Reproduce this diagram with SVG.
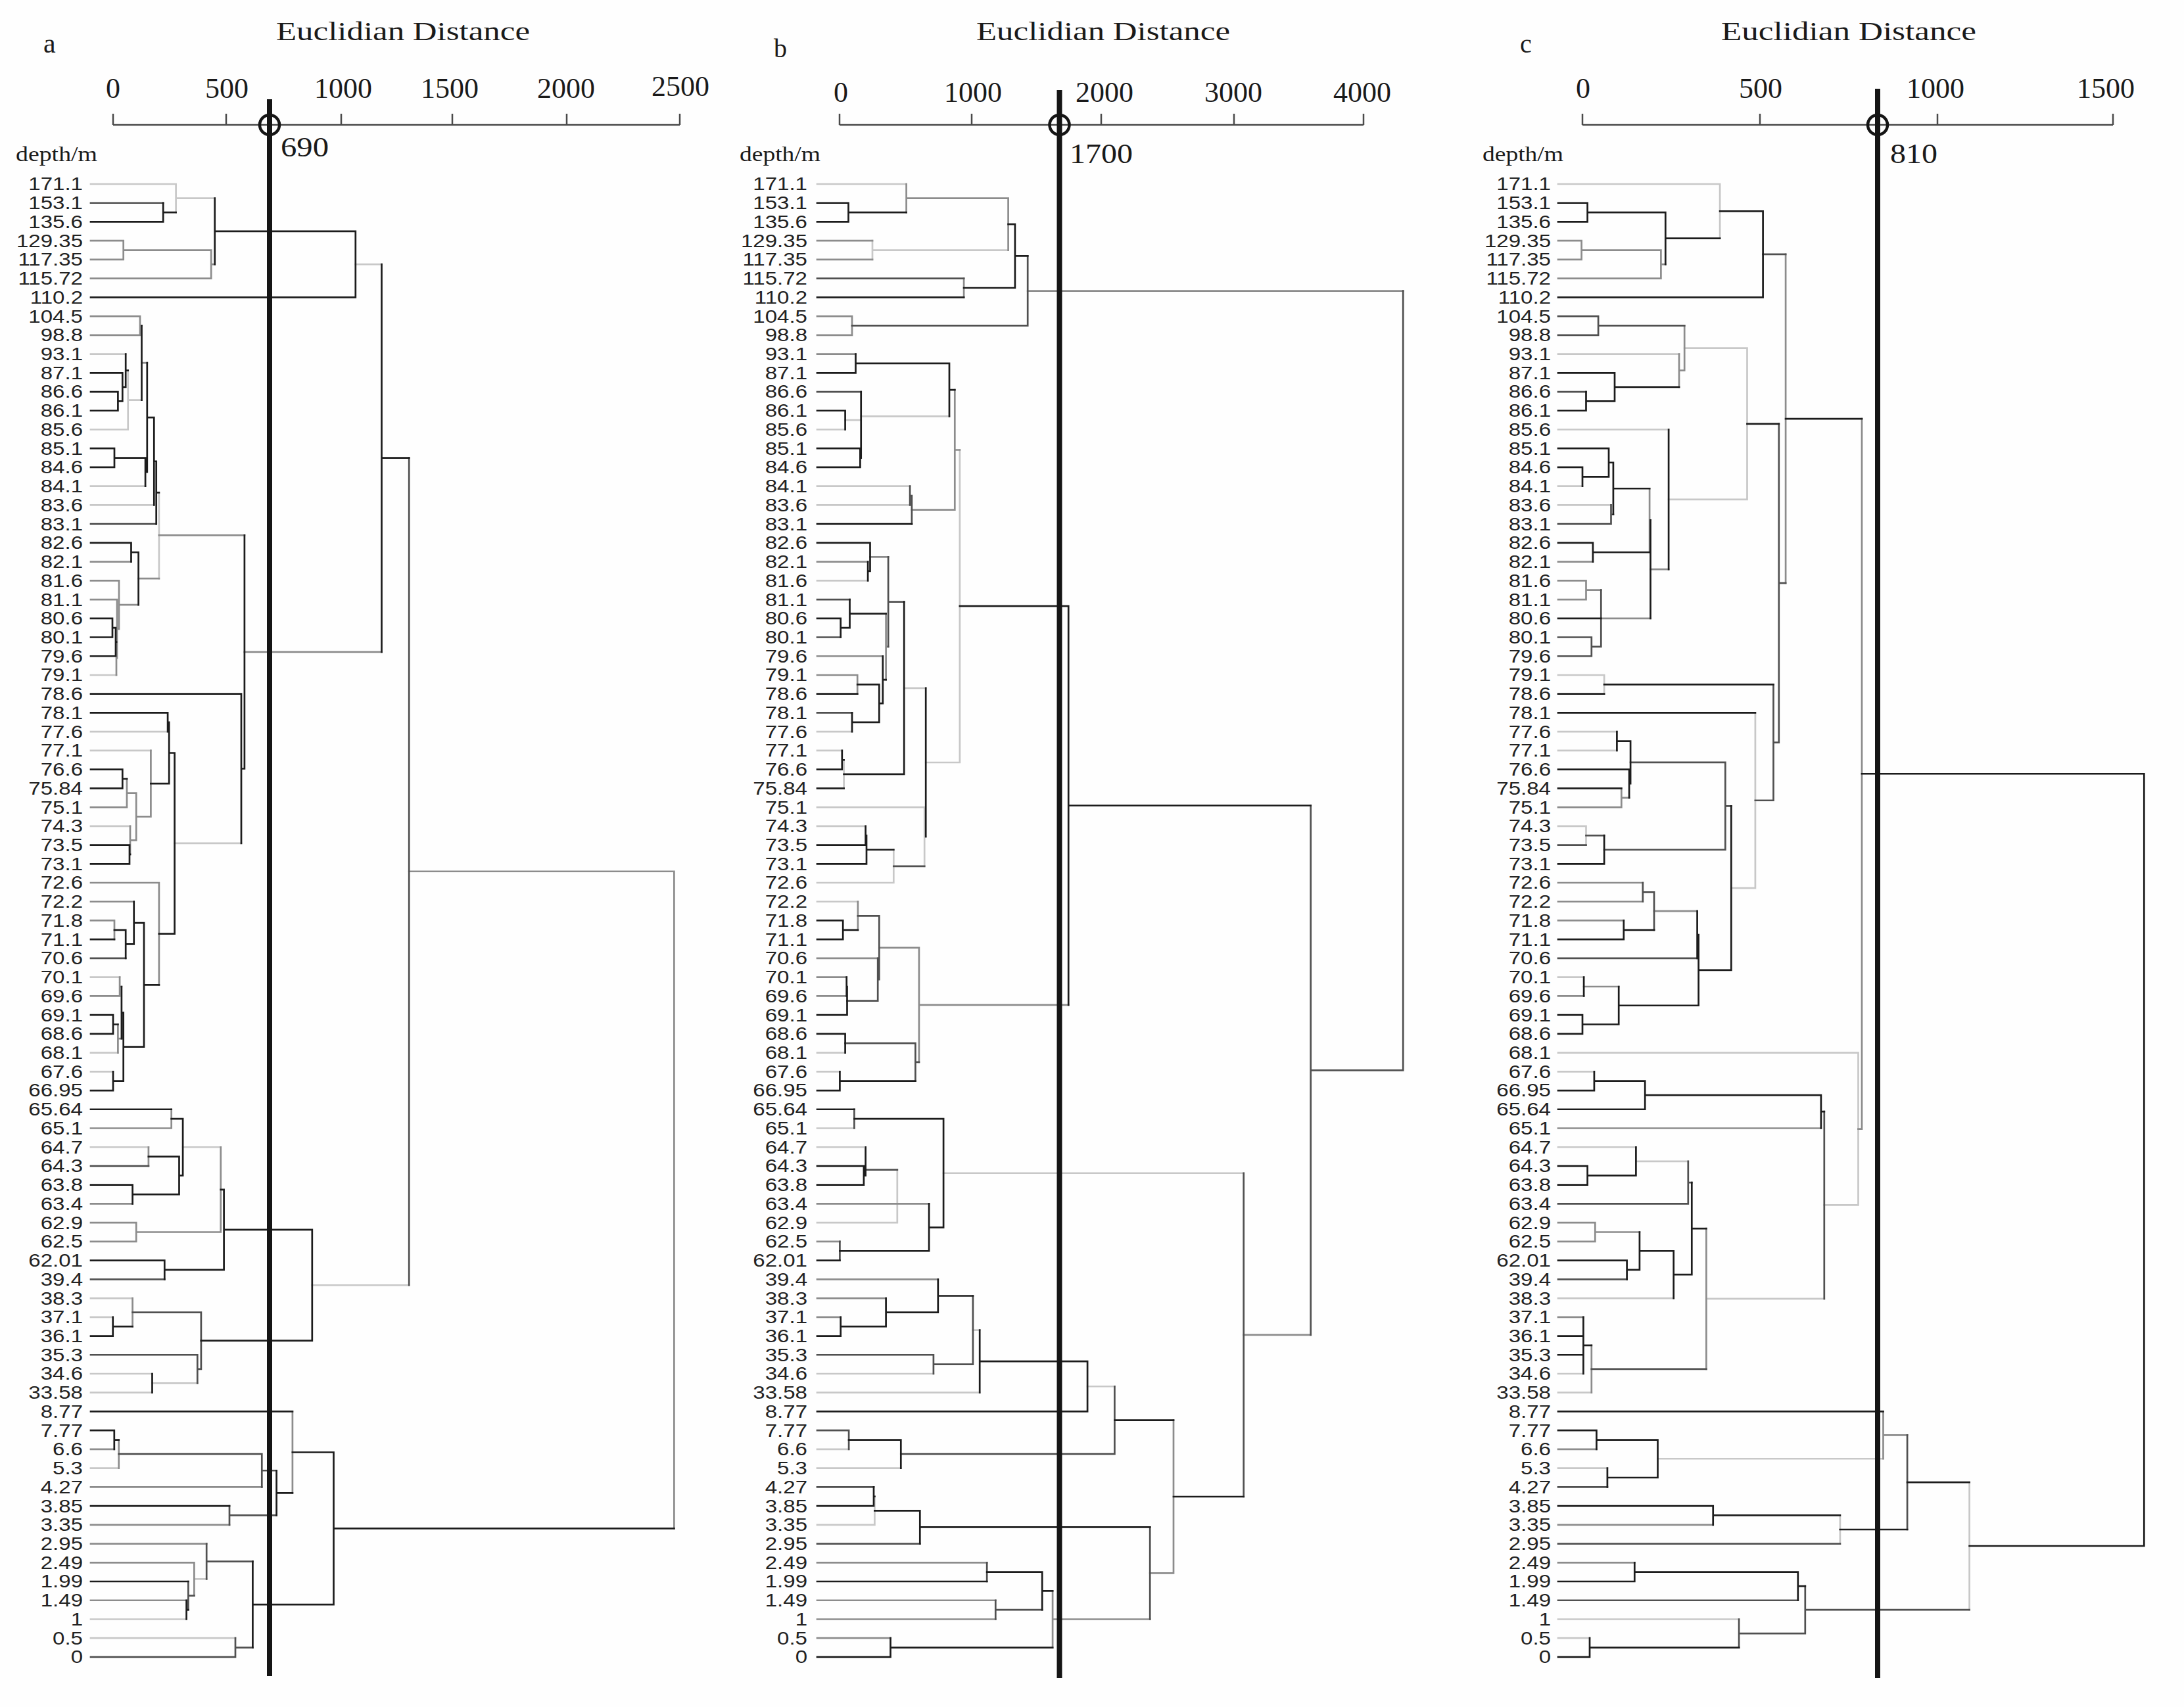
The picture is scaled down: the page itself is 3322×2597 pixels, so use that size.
<svg xmlns="http://www.w3.org/2000/svg" width="3322" height="2597" viewBox="0 0 3322 2597">
<style>
.serif{font-family:"Liberation Serif","Times New Roman",serif;fill:#1a1a1a}
.lbl text{font-family:"Liberation Sans",Arial,sans-serif;font-size:28px;fill:#222;text-anchor:end}
.axis{stroke:#4a4a4a;stroke-width:2.5;fill:none}
.cut{stroke:#151515;stroke-width:8}
.ring{fill:none;stroke:#151515;stroke-width:4.5}
.tree path{fill:none;stroke-width:2.7;vector-effect:non-scaling-stroke;stroke-linecap:square}
.K{stroke:#1c1c1c}.D{stroke:#505050}.G{stroke:#8c8c8c}.L{stroke:#c8c8c8}
</style>
<rect width="3322" height="2597" fill="#fefefe"/>

<g id="panel-a">
<g id="a-header" class="serif">
<text x="66" y="80" font-size="42">a</text>
<text x="420" y="61" font-size="40" textLength="386" lengthAdjust="spacingAndGlyphs">Euclidian Distance</text>
<g font-size="44" text-anchor="middle">
<text x="172" y="149">0</text><text x="345" y="149">500</text><text x="522" y="149">1000</text><text x="684" y="149">1500</text><text x="861" y="149">2000</text><text x="1035" y="146">2500</text>
</g>
<path class="axis" d="M172 190H1034M172 173V190M344 173V190M519 173V190M688 173V190M862 173V190M1034 173V190"/>
<text x="24" y="245" font-size="31" textLength="124" lengthAdjust="spacingAndGlyphs">depth/m</text>
</g>
<g id="a-labels" class="lbl" transform="translate(126,0) scale(1.18,1)">
<text x="0" y="289.5">171.1</text><text x="0" y="318.2">153.1</text><text x="0" y="347">135.6</text><text x="0" y="375.7">129.35</text><text x="0" y="404.4">117.35</text><text x="0" y="433.2">115.72</text><text x="0" y="461.9">110.2</text><text x="0" y="490.6">104.5</text><text x="0" y="519.3">98.8</text><text x="0" y="548.1">93.1</text><text x="0" y="576.8">87.1</text><text x="0" y="605.5">86.6</text><text x="0" y="634.3">86.1</text><text x="0" y="663">85.6</text><text x="0" y="691.7">85.1</text><text x="0" y="720.5">84.6</text><text x="0" y="749.2">84.1</text><text x="0" y="777.9">83.6</text><text x="0" y="806.6">83.1</text><text x="0" y="835.4">82.6</text><text x="0" y="864.1">82.1</text><text x="0" y="892.8">81.6</text><text x="0" y="921.6">81.1</text><text x="0" y="950.3">80.6</text><text x="0" y="979">80.1</text><text x="0" y="1007.8">79.6</text><text x="0" y="1036.5">79.1</text><text x="0" y="1065.2">78.6</text><text x="0" y="1093.9">78.1</text><text x="0" y="1122.7">77.6</text><text x="0" y="1151.4">77.1</text><text x="0" y="1180.1">76.6</text><text x="0" y="1208.9">75.84</text><text x="0" y="1237.6">75.1</text><text x="0" y="1266.3">74.3</text><text x="0" y="1295.1">73.5</text><text x="0" y="1323.8">73.1</text><text x="0" y="1352.5">72.6</text><text x="0" y="1381.2">72.2</text><text x="0" y="1410">71.8</text><text x="0" y="1438.7">71.1</text><text x="0" y="1467.4">70.6</text><text x="0" y="1496.2">70.1</text><text x="0" y="1524.9">69.6</text><text x="0" y="1553.6">69.1</text><text x="0" y="1582.4">68.6</text><text x="0" y="1611.1">68.1</text><text x="0" y="1639.8">67.6</text><text x="0" y="1668.5">66.95</text><text x="0" y="1697.3">65.64</text><text x="0" y="1726">65.1</text><text x="0" y="1754.7">64.7</text><text x="0" y="1783.5">64.3</text><text x="0" y="1812.2">63.8</text><text x="0" y="1840.9">63.4</text><text x="0" y="1869.7">62.9</text><text x="0" y="1898.4">62.5</text><text x="0" y="1927.1">62.01</text><text x="0" y="1955.8">39.4</text><text x="0" y="1984.6">38.3</text><text x="0" y="2013.3">37.1</text><text x="0" y="2042">36.1</text><text x="0" y="2070.8">35.3</text><text x="0" y="2099.5">34.6</text><text x="0" y="2128.2">33.58</text><text x="0" y="2157">8.77</text><text x="0" y="2185.7">7.77</text><text x="0" y="2214.4">6.6</text><text x="0" y="2243.1">5.3</text><text x="0" y="2271.9">4.27</text><text x="0" y="2300.6">3.85</text><text x="0" y="2329.3">3.35</text><text x="0" y="2358.1">2.95</text><text x="0" y="2386.8">2.49</text><text x="0" y="2415.5">1.99</text><text x="0" y="2444.3">1.49</text><text x="0" y="2473">1</text><text x="0" y="2501.7">0.5</text><text x="0" y="2530.4">0</text>
</g>
<g id="a-connectors" class="tree" transform="translate(0,280) scale(1,28.73)">
<path class="L" d="M138 0H267.6M138 9H191.2M138 13H194.7M138 16H221.1M138 17H234.3M138 26H177M138 29H255.1M138 30H229.4M138 34H198M138 42H182.1M138 46H179.4M138 47H172M138 51H225.9M138 59H201.6M138 60H171.7M138 63H231.5M138 64H231.5M138 68H180.7M138 76H283.6M138 77H358M267.6 0V1.5M267.6 0.75H326.7M540.8 4.25H580.5M194.7 9.875V13M194.7 11.44H215.5M241.9 16.34V20.89M265.6 34.91H367M278.1 51H335.8M231.5 63.5H300.3M474.8 58.31H622.2M295.4 73.875H314.2"/>
<path class="G" d="M138 3H187.7M138 4H187.7M138 5H321.2M138 7H213M138 8H213M138 20H199.5M138 21H181M138 22H178M138 33H193M138 37H241.9M138 38H203.7M138 39H174M138 43H182.1M138 50H260.7M138 54H201.6M138 55H207.2M138 56H207.2M138 67H173.8M138 69H398.3M138 71H349M138 72H314.2M138 73H295.4M138 75H283.6M187.7 3V4M187.7 3.5H321.2M321.2 3.5V5M321.2 4.25H326.7M213 7V8M213 7.5H215.5M215.5 9.47H223.8M177 24.25V26M177 25.1H178M178 22V25.1M178 23.56H181M181 21V23.56M181 22.28H210.6M210.6 20.89H241.9M241.9 18.6H371.9M193 31.5V33M193 32.25H207.2M198 34V35.5M198 34.75H207.2M207.2 32.25V34.75M207.2 33.5H229.4M229.4 30V33.5M174 39V40M179.4 44.5V46M179.4 45.25H184.9M182.1 42V43M182.1 42.5H184.9M241.9 37V42.41M371.9 24.78H580.5M260.7 49V50M225.9 51V52M207.2 55V56M207.2 55.5H335.8M335.8 51V55.5M201.6 59V60.5M622.2 36.4H1025.4M180.7 66.5V68M444.9 65V69.31M295.4 73V74.75M1025.4 36.4V71.19"/>
<path class="D" d="M138 1H248.2M138 18H237.7M138 41H191.2M138 52H225.9M138 58H250.3M138 62H300.3M138 78H358M201.6 59.75H305.9M300.3 62V63.5M300.3 62.75H305.9M305.9 59.75V62.75M622.2 14.5V58.31M180.7 67.25H398.3M398.3 67.25V69M398.3 68.125H420.6M349 70V71M349 70.5H420.6M286.4 74V75.5M286.4 74.75H295.4M314.2 72V73.875M314.2 72.94H384.4M358 77V78M358 77.5H384.4"/>
<path class="K" d="M138 2H248.2M138 6H540.8M138 10H186.3M138 11H179.4M138 12H179.4M138 14H174M138 15H174M138 19H199.5M138 23H171M138 24H171M138 25H176M138 27H367M138 28H255.1M138 31H186.3M138 32H186.3M138 35H197M138 36H197M138 40H174M138 44H172M138 45H172M138 48H172M138 49H260.7M138 53H201.6M138 57H250.3M138 61H171.7M138 65H444.9M138 66H173.8M138 70H349M138 74H286.4M248.2 1V2M248.2 1.5H267.6M326.7 0.75V4.25M326.7 2.5H540.8M540.8 2.5V6M179.4 11V12M179.4 11.5H186.3M186.3 10V11.5M186.3 10.75H191.2M191.2 9V10.75M191.2 9.875H194.7M215.5 7.5V11.44M174 14V15M174 14.5H221.1M221.1 14.5V16M221.1 15.25H223.8M223.8 9.47V15.25M223.8 12.36H234.3M234.3 12.36V17M234.3 14.68H237.7M237.7 14.68V18M237.7 16.34H241.9M199.5 19V20M199.5 19.5H210.6M171 23V24M171 23.5H176M176 23.5V25M176 24.25H177M210.6 19.5V22.28M186.3 31V32M186.3 31.5H193M197 35V36M197 35.5H198M229.4 31.75H257.2M255.1 28V29M255.1 28.5H257.2M257.2 28.5V31.75M257.2 30.125H265.6M174 39.5H191.2M191.2 39.5V41M191.2 40.25H203.7M203.7 38V40.25M203.7 39.125H219M172 44V45M172 44.5H179.4M184.9 42.5V45.25M184.9 43.875H187.7M172 47V48M172 47.5H187.7M187.7 43.875V47.5M187.7 45.69H219M219 39.125V45.69M219 42.41H241.9M241.9 39.7H265.6M265.6 30.125V39.7M367 27V34.91M367 30.96H371.9M371.9 18.6V30.96M580.5 4.25V24.78M580.5 14.5H622.2M260.7 49.5H278.1M225.9 51.5H272.5M201.6 53V54M201.6 53.5H272.5M272.5 51.5V53.5M272.5 52.5H278.1M278.1 49.5V52.5M335.8 53.25H340.6M250.3 57V58M250.3 57.5H340.6M340.6 53.25V57.5M340.6 55.375H474.8M171.7 60V61M171.7 60.5H201.6M231.5 63V64M305.9 61.25H474.8M474.8 55.375V61.25M173.8 66V67M173.8 66.5H180.7M420.6 68.125V70.5M420.6 69.31H444.9M444.9 67.16H507.5M283.6 75V76M283.6 75.5H286.4M384.4 72.94V77.5M384.4 75.22H507.5M507.5 67.16V75.22M507.5 71.19H1025.4"/>
</g>
<g id="a-cut">
<line class="cut" x1="410" y1="151" x2="410" y2="2550"/>
<circle class="ring" cx="410" cy="190" r="15"/>
<text class="serif" x="427" y="238" font-size="42" textLength="73" lengthAdjust="spacingAndGlyphs">690</text>
</g>
</g>

<g id="panel-b">
<g id="b-header" class="serif">
<text x="1177" y="87" font-size="40">b</text>
<text x="1485" y="61" font-size="40" textLength="386" lengthAdjust="spacingAndGlyphs">Euclidian Distance</text>
<g font-size="44" text-anchor="middle">
<text x="1279" y="155">0</text><text x="1480" y="155">1000</text><text x="1680" y="155">2000</text><text x="1876" y="155">3000</text><text x="2072" y="155">4000</text>
</g>
<path class="axis" d="M1277 190H2074M1277 173V190M1478 173V190M1675 173V190M1877 173V190M2074 173V190"/>
<text x="1125" y="245" font-size="31" textLength="123" lengthAdjust="spacingAndGlyphs">depth/m</text>
</g>
<g id="b-labels" class="lbl" transform="translate(1228,0) scale(1.18,1)">
<text x="0" y="289.5">171.1</text><text x="0" y="318.2">153.1</text><text x="0" y="347">135.6</text><text x="0" y="375.7">129.35</text><text x="0" y="404.4">117.35</text><text x="0" y="433.2">115.72</text><text x="0" y="461.9">110.2</text><text x="0" y="490.6">104.5</text><text x="0" y="519.3">98.8</text><text x="0" y="548.1">93.1</text><text x="0" y="576.8">87.1</text><text x="0" y="605.5">86.6</text><text x="0" y="634.3">86.1</text><text x="0" y="663">85.6</text><text x="0" y="691.7">85.1</text><text x="0" y="720.5">84.6</text><text x="0" y="749.2">84.1</text><text x="0" y="777.9">83.6</text><text x="0" y="806.6">83.1</text><text x="0" y="835.4">82.6</text><text x="0" y="864.1">82.1</text><text x="0" y="892.8">81.6</text><text x="0" y="921.6">81.1</text><text x="0" y="950.3">80.6</text><text x="0" y="979">80.1</text><text x="0" y="1007.8">79.6</text><text x="0" y="1036.5">79.1</text><text x="0" y="1065.2">78.6</text><text x="0" y="1093.9">78.1</text><text x="0" y="1122.7">77.6</text><text x="0" y="1151.4">77.1</text><text x="0" y="1180.1">76.6</text><text x="0" y="1208.9">75.84</text><text x="0" y="1237.6">75.1</text><text x="0" y="1266.3">74.3</text><text x="0" y="1295.1">73.5</text><text x="0" y="1323.8">73.1</text><text x="0" y="1352.5">72.6</text><text x="0" y="1381.2">72.2</text><text x="0" y="1410">71.8</text><text x="0" y="1438.7">71.1</text><text x="0" y="1467.4">70.6</text><text x="0" y="1496.2">70.1</text><text x="0" y="1524.9">69.6</text><text x="0" y="1553.6">69.1</text><text x="0" y="1582.4">68.6</text><text x="0" y="1611.1">68.1</text><text x="0" y="1639.8">67.6</text><text x="0" y="1668.5">66.95</text><text x="0" y="1697.3">65.64</text><text x="0" y="1726">65.1</text><text x="0" y="1754.7">64.7</text><text x="0" y="1783.5">64.3</text><text x="0" y="1812.2">63.8</text><text x="0" y="1840.9">63.4</text><text x="0" y="1869.7">62.9</text><text x="0" y="1898.4">62.5</text><text x="0" y="1927.1">62.01</text><text x="0" y="1955.8">39.4</text><text x="0" y="1984.6">38.3</text><text x="0" y="2013.3">37.1</text><text x="0" y="2042">36.1</text><text x="0" y="2070.8">35.3</text><text x="0" y="2099.5">34.6</text><text x="0" y="2128.2">33.58</text><text x="0" y="2157">8.77</text><text x="0" y="2185.7">7.77</text><text x="0" y="2214.4">6.6</text><text x="0" y="2243.1">5.3</text><text x="0" y="2271.9">4.27</text><text x="0" y="2300.6">3.85</text><text x="0" y="2329.3">3.35</text><text x="0" y="2358.1">2.95</text><text x="0" y="2386.8">2.49</text><text x="0" y="2415.5">1.99</text><text x="0" y="2444.3">1.49</text><text x="0" y="2473">1</text><text x="0" y="2501.7">0.5</text><text x="0" y="2530.4">0</text>
</g>
<g id="b-connectors" class="tree" transform="translate(0,280) scale(1,28.73)">
<path class="L" d="M1243 0H1378.6M1243 13H1285.6M1243 16H1384.1M1243 17H1384.1M1243 21H1320.1M1243 29H1296M1243 30H1280.8M1243 33H1406.2M1243 34H1316.6M1243 37H1359.3M1243 38H1304.9M1243 46H1285.6M1243 47H1277.4M1243 50H1299.4M1243 51H1313.2M1243 55H1364.8M1243 63H1419.9M1243 64H1490.2M1243 67H1291.1M1243 68H1370.3M1243 71H1330.4M1327 3V4M1327 3.5H1533.6M1285.6 12.5H1309.7M1309.7 12.3H1444M1283.6 30.5V32M1375.2 26.69H1408.2M1359.3 35.25V37M1406.2 33V36.125M1406.2 34.56H1408.2M1408.2 30.63H1459.9M1459.9 14.08V30.63M1364.8 52.2V55M1435.1 52.375H1891.7M1479.9 60.69H1490.2M1654.1 63.67H1695.4M1330.4 69.5V71"/>
<path class="G" d="M1243 3H1327M1243 4H1327M1243 7H1296M1243 8H1296M1243 9H1301.5M1243 20H1320.1M1243 25H1342.8M1243 26H1304.2M1243 41H1335.2M1243 42H1287.7M1243 43H1287.7M1243 54H1413.1M1243 56H1277.4M1243 58H1426.8M1243 59H1347.6M1243 60H1278.7M1243 73H1501.2M1243 75H1514.3M1243 76H1514.3M1243 77H1354.5M1378.6 0V1.5M1378.6 0.75H1533.6M1533.6 0.75V3.5M1466.1 5V6M1296 7V8M1563.2 5.66H2134.2M1386.9 17.25H1452.3M1452.3 10.9V17.25M1452.3 14.08H1459.9M1323.5 19.75H1351.1M1304.2 26V27M1347.6 22.75V26.25M1347.6 24.5H1351.1M1304.9 38V39.5M1337.3 40.44H1397.9M1397.9 40.44V46.5M1397.9 43.47H1625.2M1601.1 74.5V77.5M1601.1 76H1749.2M1749.2 73.56H1785M1785 65.46V73.56M1891.7 60.94H1993.7"/>
<path class="D" d="M1243 5H1466.1M1243 11H1309.7M1243 22H1292.5M1243 24H1278.7M1243 28H1296M1243 62H1419.9M1243 66H1291.1M1243 69H1329M1243 72H1399.3M1296 7.5H1563.2M1563.2 3.81V7.5M1384.1 16V17M1384.1 16.5H1386.9M1386.9 16.5V18M1351.1 19.75V24.5M1351.1 22.125H1375.2M1359.3 36.125H1406.2M1304.9 38.75H1337.3M1288.5 43.25H1335.2M1335.2 41V43.25M1335.2 42.125H1337.3M1337.3 38.75V42.125M1285.6 45.5H1392.4M1392.4 45.5V47.5M1392.4 46.5H1397.9M1299.4 49V50M1316.6 52.2H1364.8M1277.4 56V57M1419.9 62V63M1419.9 62.5H1479.9M1479.9 58.875V62.5M1291.1 66V67M1370.3 67.25H1695.4M1695.4 63.67V67.25M1501.2 73V74M1514.3 75V76M1514.3 75.5H1585.2M1749.2 71.125V76M1891.7 52.375V69.51M1993.7 32.91V60.94M1993.7 46.93H2134.2M2134.2 5.66V46.93"/>
<path class="K" d="M1243 1H1290.5M1243 2H1290.5M1243 6H1466.1M1243 10H1301.5M1243 12H1285.6M1243 14H1308.4M1243 15H1308.4M1243 18H1386.9M1243 19H1323.5M1243 23H1278.7M1243 27H1304.2M1243 31H1280.8M1243 32H1283.6M1243 35H1316.6M1243 36H1318M1243 39H1282.2M1243 40H1282.2M1243 44H1288.5M1243 45H1285.6M1243 48H1277.4M1243 49H1299.4M1243 52H1313.9M1243 53H1313.9M1243 57H1277.4M1243 61H1278.7M1243 65H1654.1M1243 70H1329M1243 74H1501.2M1243 78H1354.5M1290.5 1V2M1290.5 1.5H1378.6M1533.6 2.125H1543.9M1466.1 5.5H1543.9M1543.9 2.125V5.5M1543.9 3.81H1563.2M1301.5 9V10M1301.5 9.5H1444M1285.6 12V13M1308.4 14V15M1308.4 14.5H1309.7M1309.7 11V14.5M1444 9.5V12.3M1444 10.9H1452.3M1320.1 20V21M1320.1 20.5H1323.5M1323.5 19V20.5M1278.7 23V24M1278.7 23.5H1292.5M1292.5 22V23.5M1292.5 22.75H1347.6M1304.2 26.5H1337.3M1296 28V29M1296 28.5H1337.3M1337.3 26.5V28.5M1337.3 27.5H1342.8M1342.8 25V27.5M1342.8 26.25H1347.6M1280.8 30V31M1280.8 30.5H1283.6M1283.6 31.25H1375.2M1375.2 22.125V31.25M1316.6 34V35M1316.6 34.5H1318M1318 34.5V36M1318 35.25H1359.3M1408.2 26.69V34.56M1459.9 22.35H1625.2M1282.2 39V40M1282.2 39.5H1304.9M1287.7 42V43M1287.7 42.5H1288.5M1288.5 42.5V44M1285.6 45V46M1277.4 47V48M1277.4 47.5H1392.4M1625.2 22.35V43.47M1625.2 32.91H1993.7M1299.4 49.5H1435.1M1313.9 52V53M1313.9 52.5H1316.6M1316.6 51V52.5M1277.4 56.5H1413.1M1413.1 54V56.5M1413.1 55.25H1435.1M1435.1 49.5V55.25M1278.7 60V61M1278.7 60.5H1347.6M1347.6 59V60.5M1347.6 59.75H1426.8M1426.8 58V59.75M1426.8 58.875H1479.9M1490.2 60.69V64M1490.2 62.34H1654.1M1654.1 62.34V65M1291.1 66.5H1370.3M1370.3 66.5V68M1695.4 65.46H1785M1329 69V70M1329 69.5H1330.4M1330.4 70.25H1399.3M1399.3 70.25V72M1399.3 71.125H1749.2M1501.2 73.5H1585.2M1585.2 73.5V75.5M1585.2 74.5H1601.1M1354.5 77V78M1354.5 77.5H1601.1M1785 69.51H1891.7"/>
</g>
<g id="b-cut">
<line class="cut" x1="1611.5" y1="137" x2="1611.5" y2="2553"/>
<circle class="ring" cx="1611.5" cy="190" r="15"/>
<text class="serif" x="1627" y="248" font-size="42" textLength="96" lengthAdjust="spacingAndGlyphs">1700</text>
</g>
</g>

<g id="panel-c">
<g id="c-header" class="serif">
<text x="2312" y="80" font-size="40">c</text>
<text x="2618" y="61" font-size="40" textLength="388" lengthAdjust="spacingAndGlyphs">Euclidian Distance</text>
<g font-size="44" text-anchor="middle">
<text x="2408" y="149">0</text><text x="2678" y="149">500</text><text x="2944" y="149">1000</text><text x="3203" y="149">1500</text>
</g>
<path class="axis" d="M2407 190H3214M2407 173V190M2677 173V190M2947 173V190M3214 173V190"/>
<text x="2255" y="245" font-size="31" textLength="123" lengthAdjust="spacingAndGlyphs">depth/m</text>
</g>
<g id="c-labels" class="lbl" transform="translate(2359,0) scale(1.18,1)">
<text x="0" y="289.5">171.1</text><text x="0" y="318.2">153.1</text><text x="0" y="347">135.6</text><text x="0" y="375.7">129.35</text><text x="0" y="404.4">117.35</text><text x="0" y="433.2">115.72</text><text x="0" y="461.9">110.2</text><text x="0" y="490.6">104.5</text><text x="0" y="519.3">98.8</text><text x="0" y="548.1">93.1</text><text x="0" y="576.8">87.1</text><text x="0" y="605.5">86.6</text><text x="0" y="634.3">86.1</text><text x="0" y="663">85.6</text><text x="0" y="691.7">85.1</text><text x="0" y="720.5">84.6</text><text x="0" y="749.2">84.1</text><text x="0" y="777.9">83.6</text><text x="0" y="806.6">83.1</text><text x="0" y="835.4">82.6</text><text x="0" y="864.1">82.1</text><text x="0" y="892.8">81.6</text><text x="0" y="921.6">81.1</text><text x="0" y="950.3">80.6</text><text x="0" y="979">80.1</text><text x="0" y="1007.8">79.6</text><text x="0" y="1036.5">79.1</text><text x="0" y="1065.2">78.6</text><text x="0" y="1093.9">78.1</text><text x="0" y="1122.7">77.6</text><text x="0" y="1151.4">77.1</text><text x="0" y="1180.1">76.6</text><text x="0" y="1208.9">75.84</text><text x="0" y="1237.6">75.1</text><text x="0" y="1266.3">74.3</text><text x="0" y="1295.1">73.5</text><text x="0" y="1323.8">73.1</text><text x="0" y="1352.5">72.6</text><text x="0" y="1381.2">72.2</text><text x="0" y="1410">71.8</text><text x="0" y="1438.7">71.1</text><text x="0" y="1467.4">70.6</text><text x="0" y="1496.2">70.1</text><text x="0" y="1524.9">69.6</text><text x="0" y="1553.6">69.1</text><text x="0" y="1582.4">68.6</text><text x="0" y="1611.1">68.1</text><text x="0" y="1639.8">67.6</text><text x="0" y="1668.5">66.95</text><text x="0" y="1697.3">65.64</text><text x="0" y="1726">65.1</text><text x="0" y="1754.7">64.7</text><text x="0" y="1783.5">64.3</text><text x="0" y="1812.2">63.8</text><text x="0" y="1840.9">63.4</text><text x="0" y="1869.7">62.9</text><text x="0" y="1898.4">62.5</text><text x="0" y="1927.1">62.01</text><text x="0" y="1955.8">39.4</text><text x="0" y="1984.6">38.3</text><text x="0" y="2013.3">37.1</text><text x="0" y="2042">36.1</text><text x="0" y="2070.8">35.3</text><text x="0" y="2099.5">34.6</text><text x="0" y="2128.2">33.58</text><text x="0" y="2157">8.77</text><text x="0" y="2185.7">7.77</text><text x="0" y="2214.4">6.6</text><text x="0" y="2243.1">5.3</text><text x="0" y="2271.9">4.27</text><text x="0" y="2300.6">3.85</text><text x="0" y="2329.3">3.35</text><text x="0" y="2358.1">2.95</text><text x="0" y="2386.8">2.49</text><text x="0" y="2415.5">1.99</text><text x="0" y="2444.3">1.49</text><text x="0" y="2473">1</text><text x="0" y="2501.7">0.5</text><text x="0" y="2530.4">0</text>
</g>
<g id="c-connectors" class="tree" transform="translate(0,280) scale(1,28.73)">
<path class="L" d="M2370 0H2616.1M2370 9H2554M2370 13H2538.1M2370 16H2407M2370 17H2450.5M2370 26H2440.1M2370 29H2459.4M2370 30H2459.4M2370 34H2412.5M2370 42H2409.1M2370 46H2826.5M2370 47H2424.9M2370 51H2488.4M2370 59H2545.7M2370 63H2408.4M2370 64H2420.8M2370 68H2444.9M2370 76H2645.1M2370 77H2418M2616.1 0V2.875M2562.2 8.69H2657.5M2538.1 16.7H2657.5M2657.5 8.69V16.7M2440.1 26V27M2412.5 34V35M2633.3 37.28H2669.9M2669.9 28V37.28M2488.4 51.75H2567.8M2595.4 59.03H2774.8M2774.8 54.07H2826.5M2826.5 46V54.07M2521.5 67.5H2864.5M2798.9 70.5V72M2995.6 68.75V75.5"/>
<path class="G" d="M2370 3H2405.6M2370 4H2405.6M2370 5H2526.4M2370 20H2422.9M2370 21H2412.5M2370 22H2412.5M2370 33H2466.3M2370 37H2498.8M2370 38H2498.8M2370 39H2469.8M2370 43H2409.1M2370 50H2769.9M2370 55H2426.3M2370 56H2426.3M2370 60H2408.4M2370 67H2428.4M2370 71H2605.7M2370 73H2486.3M2405.6 3V4M2405.6 3.5H2526.4M2526.4 3.5V5M2526.4 4.25H2533.3M2554 9V10.75M2554 9.875H2562.2M2562.2 7.5V9.875M2509.1 16.125V19.5M2509.1 17.8H2510.5M2412.5 21V22M2412.5 21.5H2435.3M2435.3 23H2510.5M2510.5 20.4H2538.1M2466.3 32V33M2466.3 32.5H2478.1M2516 38.5H2581.6M2409.1 42.5H2462.2M2716.1 3.72V21.13M2426.3 55V56M2426.3 55.5H2493.9M2420.8 61.5V64M2595.4 55.31V62.75M2826.5 50.04H2832M2832 12.43V50.04M2864.5 65V67.5M2864.5 66.25H2901.1"/>
<path class="D" d="M2370 7H2431.1M2370 8H2431.1M2370 11H2412.5M2370 18H2450.5M2370 24H2420.8M2370 25H2420.8M2370 35H2412.5M2370 41H2581.6M2370 54H2567.8M2370 58H2474.6M2370 69H2444.9M2370 72H2798.9M2370 75H2734.8M2681.6 3.72H2716.1M2431.1 7V8M2431.1 7.5H2562.2M2450.5 17V18M2450.5 17.5H2453.9M2420.8 24V25M2420.8 24.5H2435.3M2435.3 21.5V24.5M2480.1 30.625H2624.3M2412.5 34.5H2440.1M2440.1 35.25H2624.3M2624.3 30.625V35.25M2624.3 32.94H2633.3M2498.8 37V38M2498.8 37.5H2516M2516 37.5V39.5M2669.9 32.64H2697.5M2697.5 26.5V32.64M2697.5 29.57H2705.8M2705.8 12.7V29.57M2705.8 21.13H2716.1M2567.8 51.75V54M2567.8 52.875H2573.3M2420.8 62.75H2595.4M2774.8 49.12V59.03M2901.1 66.25V71.25M2645.1 76V77.5M2645.1 76.75H2745.8M2745.8 74.25V76.75M2745.8 75.5H2995.6"/>
<path class="K" d="M2370 1H2414.6M2370 2H2414.6M2370 6H2681.6M2370 10H2456M2370 12H2412.5M2370 14H2447M2370 15H2407M2370 19H2422.9M2370 23H2435.3M2370 27H2440.1M2370 28H2669.9M2370 31H2478.1M2370 32H2466.3M2370 36H2440.1M2370 40H2469.8M2370 44H2407M2370 45H2407M2370 48H2424.9M2370 49H2502.2M2370 52H2414.6M2370 53H2414.6M2370 57H2474.6M2370 61H2408.4M2370 62H2408.4M2370 65H2864.5M2370 66H2428.4M2370 70H2605.7M2370 74H2486.3M2370 78H2418M2414.6 1V2M2414.6 1.5H2533.3M2533.3 1.5V4.25M2533.3 2.875H2616.1M2616.1 1.44H2681.6M2681.6 1.44V6M2412.5 11V12M2412.5 11.5H2456M2456 10V11.5M2456 10.75H2554M2407 15V16M2407 15.5H2447M2447 14V15.5M2447 14.75H2453.9M2453.9 14.75V17.5M2453.9 16.125H2509.1M2422.9 19V20M2422.9 19.5H2509.1M2510.5 17.8V23M2538.1 13V20.4M2657.5 12.7H2705.8M2440.1 26.5H2697.5M2459.4 29V30M2459.4 29.5H2480.1M2478.1 31V32.5M2478.1 31.75H2480.1M2480.1 29.5V31.75M2440.1 34.5V36M2469.8 39V40M2469.8 39.5H2516M2581.6 38.5V41M2581.6 39.75H2583.6M2409.1 42V43M2407 44V45M2407 44.5H2462.2M2462.2 42.5V44.5M2462.2 43.5H2583.6M2583.6 39.75V43.5M2583.6 41.625H2633.3M2633.3 32.94V41.625M2716.1 12.43H2832M2424.9 47V48M2424.9 47.5H2502.2M2502.2 47.5V49M2502.2 48.25H2769.9M2769.9 48.25V50M2769.9 49.12H2774.8M2414.6 52V53M2414.6 52.5H2488.4M2488.4 51V52.5M2474.6 57V58M2474.6 57.5H2493.9M2493.9 55.5V57.5M2493.9 56.5H2545.7M2545.7 56.5V59M2545.7 57.75H2573.3M2573.3 52.875V57.75M2573.3 55.31H2595.4M2408.4 60V63M2408.4 61.5H2420.8M2832 31.23H3261.3M2428.4 66V67M2428.4 66.5H2521.5M2444.9 68V69M2444.9 68.5H2521.5M2521.5 66.5V68.5M2605.7 70V71M2605.7 70.5H2798.9M2798.9 71.25H2901.1M2901.1 68.75H2995.6M2486.3 73V74M2486.3 73.5H2734.8M2734.8 73.5V75M2734.8 74.25H2745.8M2418 77V78M2418 77.5H2645.1M2995.6 72.12H3261.3M3261.3 31.23V72.12"/>
</g>
<g id="c-cut">
<line class="cut" x1="2856" y1="135" x2="2856" y2="2553"/>
<circle class="ring" cx="2856" cy="190" r="15"/>
<text class="serif" x="2875" y="248" font-size="42" textLength="72" lengthAdjust="spacingAndGlyphs">810</text>
</g>
</g>
</svg>
